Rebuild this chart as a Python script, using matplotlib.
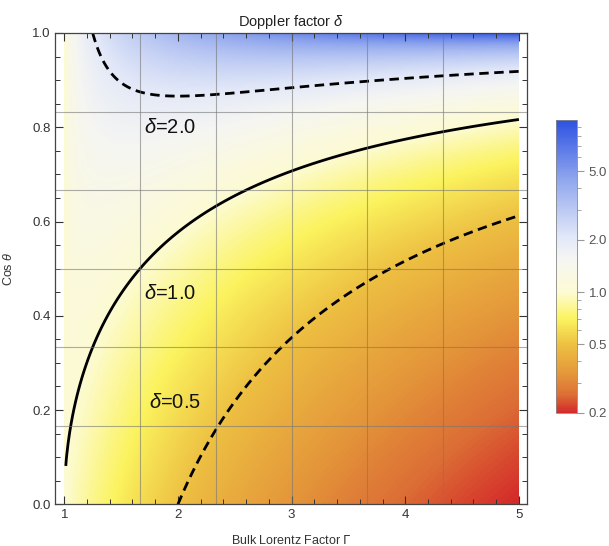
import numpy as np
import matplotlib
matplotlib.use("Agg")
import matplotlib.pyplot as plt
from matplotlib.colors import LinearSegmentedColormap, LogNorm
from matplotlib.ticker import FixedLocator, NullFormatter, FormatStrFormatter

plt.rcParams['font.family'] = ['Liberation Sans', 'DejaVu Sans']
plt.rcParams['mathtext.fontset'] = 'custom'
plt.rcParams['mathtext.it'] = 'Liberation Sans:italic'

# sampling of the two axes
gamma_range = [1.0, 5.0]
cos_range = [0.0, 1.0]
n_gamma = 301
n_cos = 301

# contour levels and their labels
contour_levels = [0.5, 1.0, 2.0]
contour_styles = ['--', '-', '--']
label_text = [r'$\delta$=0.5', r'$\delta$=1.0', r'$\delta$=2.0']
label_gamma = [1.97, 1.93, 1.93]
label_cos = [0.215, 0.448, 0.80]

# ticks
x_ticks = [1, 2, 3, 4, 5]
y_ticks = [0.0, 0.2, 0.4, 0.6, 0.8, 1.0]
cbar_ticks = [0.2, 0.5, 1.0, 2.0, 5.0]
cbar_minor = [0.3, 0.4, 0.6, 0.7, 0.8, 0.9, 3, 4, 6, 7, 8, 9]
grid_x = [5 / 3, 7 / 3, 3, 11 / 3, 13 / 3]
grid_y = [1 / 6, 2 / 6, 3 / 6, 4 / 6, 5 / 6]


# Doppler factor for bulk Lorentz factor G and viewing angle cosine c
def doppler(G, c):
    beta = np.sqrt(1 - 1 / G ** 2)
    return 1 / (G * (1 - beta * c))


G = np.linspace(gamma_range[0], gamma_range[1], n_gamma)
C = np.linspace(cos_range[0], cos_range[1], n_cos)
GG, CC = np.meshgrid(G, C)
D = doppler(GG, CC)

cmap = LinearSegmentedColormap.from_list('doppler', [
    (0.00, '#d42a2a'),
    (0.06, '#dc6e35'),
    (0.13, '#e4963a'),
    (0.23, '#edbf42'),
    (0.32, '#fbf35e'),
    (0.41, '#fdfbd2'),
    (0.52, '#f6f6f2'),
    (0.60, '#e2e8f8'),
    (0.79, '#93a9ee'),
    (1.00, '#2d52e2'),
])
norm = LogNorm(vmin=0.2, vmax=doppler(5.0, 1.0))

fig = plt.figure(figsize=(6.09, 5.46), dpi=100)
ax = fig.add_axes([0.0908, 0.0764, 0.774, 0.8632])

im = ax.imshow(D, origin='lower', extent=[G[0], G[-1], C[0], C[-1]],
               cmap=cmap, norm=norm, aspect='auto', interpolation='bilinear')

# skip the Gamma=1 column where delta is exactly 1
for lev, ls in zip(contour_levels, contour_styles):
    cs = ax.contour(GG[:, 1:], CC[:, 1:], D[:, 1:], levels=[lev],
                    colors='black', linewidths=2.0)
    if ls == '--':
        cs.set_linestyle((0, (3.4, 2.0)))

for txt, gx, cy in zip(label_text, label_gamma, label_cos):
    ax.text(gx, cy, txt, fontsize=14.5, ha='center', va='center', color='#111111')

for gx in grid_x:
    ax.axvline(gx, color='#777777', lw=0.8, alpha=0.6)
for cy in grid_y:
    ax.axhline(cy, color='#777777', lw=0.8, alpha=0.6)

ax.set_xlim(0.921, 5.068)
ax.set_ylim(0, 1)
ax.xaxis.set_major_locator(FixedLocator(x_ticks))
ax.xaxis.set_minor_locator(FixedLocator(np.arange(1.2, 5.0, 0.2)))
ax.yaxis.set_major_locator(FixedLocator(y_ticks))
ax.yaxis.set_minor_locator(FixedLocator(np.arange(0.05, 1.0, 0.05)))
ax.xaxis.set_major_formatter(FormatStrFormatter('%d'))
ax.yaxis.set_major_formatter(FormatStrFormatter('%.1f'))
ax.tick_params(which='both', direction='in', top=True, right=True,
               color='#333333', labelcolor='#333333', labelsize=9.5)
ax.tick_params(which='major', length=6, width=0.8)
ax.tick_params(which='minor', length=3.5, width=0.7)
for s in ax.spines.values():
    s.set_color('#444444')
    s.set_linewidth(0.9)

ax.set_title(r'Doppler factor $\delta$', fontsize=10.5, color='#222222', pad=5)
ax.set_xlabel(r'Bulk Lorentz Factor $\Gamma$', fontsize=9, color='#333333', labelpad=9)
ax.set_ylabel(r'Cos $\theta$', fontsize=9, color='#333333', labelpad=12)

cax = fig.add_axes([0.913, 0.2436, 0.034, 0.537])
cb = fig.colorbar(im, cax=cax)
cb.set_ticks(cbar_ticks)
cb.set_ticklabels(['%.1f' % t for t in cbar_ticks])
cb.ax.yaxis.set_minor_locator(FixedLocator(cbar_minor))
cb.ax.yaxis.set_minor_formatter(NullFormatter())
cb.ax.tick_params(which='both', color='#999999', labelcolor='#555555', labelsize=9.5)
cb.ax.tick_params(which='major', length=5)
cb.ax.tick_params(which='minor', length=3)
cb.outline.set_edgecolor('#888888')
cb.outline.set_linewidth(0.6)

fig.savefig('out.png', dpi=100)
